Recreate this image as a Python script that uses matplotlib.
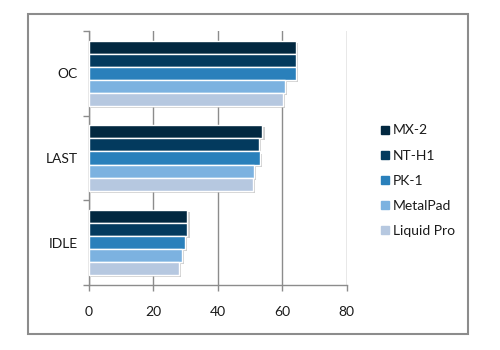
import numpy as np
import matplotlib.pyplot as plt
from matplotlib import patheffects
from matplotlib.patches import Rectangle
from matplotlib.lines import Line2D

categories = ["IDLE", "LAST", "OC"]
series = ["MX-2", "NT-H1", "PK-1", "MetalPad", "Liquid Pro"]
values = {
    "MX-2":       [30.6, 53.9, 64.4],
    "NT-H1":      [30.6, 52.8, 64.4],
    "PK-1":       [29.8, 53.2, 64.4],
    "MetalPad":   [28.9, 51.3, 60.9],
    "Liquid Pro": [27.9, 50.8, 60.3],
}
colors = ["#022840", "#033a5e", "#2a80bb", "#7cb2e0", "#b6c8e0"]

plt.rcParams['font.family'] = ['Lato', 'DejaVu Sans']

fig = plt.figure(figsize=(5, 3.5), dpi=100, facecolor="w")
ax = fig.add_axes([0.178, 0.186, 0.515, 0.725])

# outer frame of the chart
fig.patches.append(Rectangle((0.056, 0.046), 0.88, 0.914, transform=fig.transFigure,
                             fill=False, edgecolor="#8c8c8c", lw=1.5))

n = len(series)
h = 0.155
y = np.arange(len(categories))
shadow = [patheffects.SimplePatchShadow(offset=(1.5, -1.5), shadow_rgbFace="#b0b0b0", alpha=0.6),
          patheffects.Normal()]
for i, (name, c) in enumerate(zip(series, colors)):
    off = (n - 1) / 2.0 - i
    bars = ax.barh(y + off * h, values[name], height=h, color=c,
                   edgecolor="white", linewidth=1, zorder=3, label=name)
    for b in bars:
        b.set_path_effects(shadow)

ax.set_xlim(0, 80)
ax.set_ylim(-0.5, len(categories) - 0.5)
ax.set_xticks([0, 20, 40, 60, 80])
ax.set_yticks(y)
ax.set_yticklabels(categories)
ax.set_yticks(np.arange(-0.5, len(categories)), minor=True)

ax.grid(axis="x", color="#8c8c8c", lw=1, zorder=0)
for s in ["top", "right"]:
    ax.spines[s].set_visible(False)
for s in ["left", "bottom"]:
    ax.spines[s].set_color("#8c8c8c")
    ax.spines[s].set_linewidth(1)

ax.tick_params(axis="y", which="major", length=0, pad=8, labelsize=10, labelcolor="#1a1a1a")
ax.tick_params(axis="y", which="minor", length=4, color="#8c8c8c", width=1)
ax.tick_params(axis="x", length=4, color="#8c8c8c", width=1, pad=11, labelsize=10, labelcolor="#1a1a1a")

handles = [Line2D([], [], marker="s", ls="none", color=c, markersize=5.5) for c in colors]
fig.legend(handles, series, loc="upper left", bbox_to_anchor=(0.738, 0.68),
           frameon=False, fontsize=10, handlelength=0.5, handletextpad=0.3,
           labelspacing=0.95, labelcolor="#1a1a1a")

plt.savefig("out.png", dpi=100)
